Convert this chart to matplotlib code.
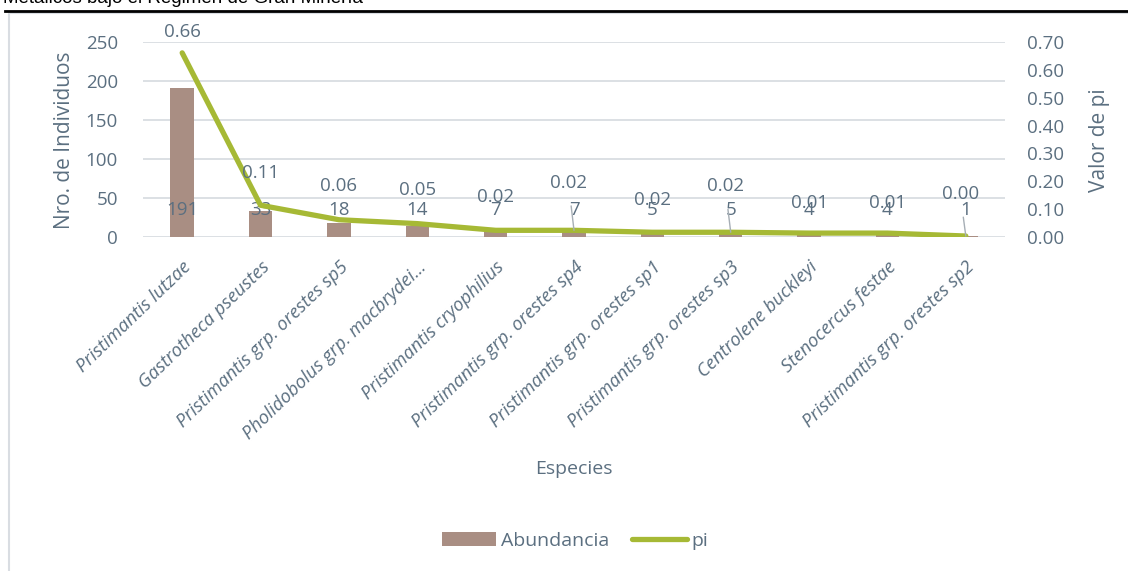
import matplotlib
matplotlib.use("Agg")
import matplotlib.pyplot as plt
from matplotlib.lines import Line2D
from matplotlib.patches import Patch, Rectangle

plt.rcParams["font.family"] = ["Open Sans", "DejaVu Sans"]

species = [
    "Pristimantis lutzae",
    "Gastrotheca pseustes",
    "Pristimantis grp. orestes sp5",
    "Pholidobolus grp. macbrydei...",
    "Pristimantis cryophilius",
    "Pristimantis grp. orestes sp4",
    "Pristimantis grp. orestes sp1",
    "Pristimantis grp. orestes sp3",
    "Centrolene buckleyi",
    "Stenocercus festae",
    "Pristimantis grp. orestes sp2",
]
abundancia = [191, 33, 18, 14, 7, 7, 5, 5, 4, 4, 1]
pi_vals = [0.661, 0.114, 0.062, 0.048, 0.024, 0.024, 0.017, 0.017, 0.014, 0.014, 0.0035]

# vertical offsets (points) of the pi labels, and which ones carry a leader line
pi_label_dy = [15, 23, 24, 24, 24, 34, 23, 33, 22, 22, 30]
leader = [False, False, False, False, False, True, False, True, False, False, True]

text_c = "#5b6f80"
bar_c = "#a98e83"
line_c = "#a6b935"
grid_c = "#d9dde2"

fig = plt.figure(figsize=(11.28, 5.71), dpi=100)
W, H = 1128, 571
ax = fig.add_axes([143 / W, 1 - 237 / H, 862 / W, 195 / H])
ax2 = ax.twinx()

x = list(range(len(species)))
ax.bar(x, abundancia, width=0.3, color=bar_c, zorder=2)
ax.set_ylim(0, 250)
ax.set_yticks(range(0, 251, 50))
ax.set_xlim(-0.5, len(species) - 0.5)
ax.yaxis.grid(True, color=grid_c, linewidth=1.3, zorder=0)
ax.set_axisbelow(True)
for s in ax.spines.values():
    s.set_visible(False)
for s in ax2.spines.values():
    s.set_visible(False)
ax.tick_params(axis="y", length=0, pad=18, labelsize=13.5, labelcolor=text_c)
ax.tick_params(axis="x", length=0, pad=15)
ax.set_xticks(x)
ax.set_xticklabels(species, rotation=44, ha="right", rotation_mode="anchor",
                   style="italic", fontsize=13.3, color=text_c)

ax2.plot(x, pi_vals, color=line_c, linewidth=3.8, solid_capstyle="round", zorder=3)
ax2.set_ylim(0, 0.70)
ax2.set_yticks([i / 10 for i in range(8)])
ax2.set_yticklabels([f"{i / 10:.2f}" for i in range(8)])
ax2.tick_params(axis="y", length=0, pad=16, labelsize=13.5, labelcolor=text_c)

# bar value labels
for xi, v in zip(x, abundancia):
    ax.text(xi, 34, str(v), ha="center", va="center", fontsize=13.5, color=text_c, zorder=4)

# pi value labels
for xi, v, dy, ld in zip(x, pi_vals, pi_label_dy, leader):
    if ld:
        ax2.annotate(f"{v:.2f}", xy=(xi, v), xytext=(-4, dy), textcoords="offset points",
                     ha="center", va="center", fontsize=13.5, color=text_c, zorder=4,
                     arrowprops=dict(arrowstyle="-", color="#a6aeb5", lw=1,
                                     shrinkA=8, shrinkB=0))
    else:
        ax2.annotate(f"{v:.2f}", xy=(xi, v), xytext=(0, dy), textcoords="offset points",
                     ha="center", va="center", fontsize=13.5, color=text_c, zorder=4)

fig.text(64 / W, 1 - 140 / H, "Nro. de Individuos", rotation=90, ha="center", va="center",
         fontsize=15, color=text_c)
fig.text(1100 / W, 1 - 140 / H, "Valor de pi", rotation=90, ha="center", va="center",
         fontsize=15, color=text_c)
fig.text(574 / W, 1 - 469 / H, "Especies", ha="center", va="center",
         fontsize=14, color=text_c)

handles = [Patch(facecolor=bar_c, edgecolor="none"),
           Line2D([0], [0], color=line_c, linewidth=3.8, solid_capstyle="round")]
fig.legend(handles, ["Abundancia", "pi"], loc="center", bbox_to_anchor=(575 / W, 1 - 541 / H),
           ncol=2, frameon=False, fontsize=14, labelcolor=text_c, handlelength=2.8,
           handleheight=0.75, handletextpad=0.25, columnspacing=1.2)

# chart border and the clipped page heading above it
fig.add_artist(Rectangle((9 / W, -0.01), 1.1, 1 - 13 / H + 0.01, transform=fig.transFigure,
                         fill=False, edgecolor="#d9dde2", linewidth=1.5))
fig.add_artist(Line2D([5 / W, 1], [1 - 10.5 / H, 1 - 10.5 / H], transform=fig.transFigure,
                      color="black", linewidth=2))
fig.text(3 / W, 1 - 3 / H, "Metálicos bajo el Régimen de Gran Minería", ha="left",
         va="baseline", fontsize=13.5, color="black", family=["Liberation Sans", "DejaVu Sans"])

fig.savefig("out.png", dpi=100)
